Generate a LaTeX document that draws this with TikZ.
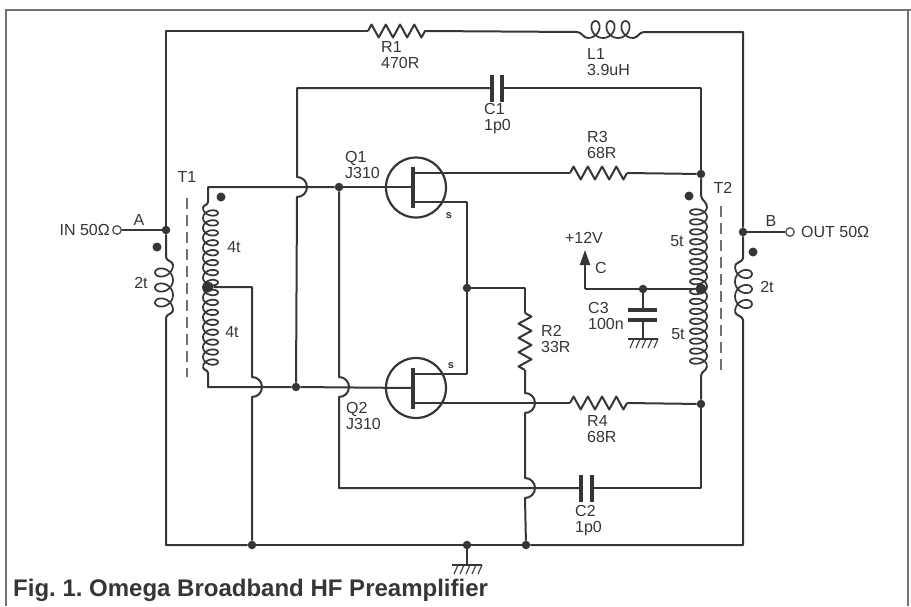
\documentclass[tikz,border=0pt]{standalone}
\usepackage{fontspec}
\setmainfont{Liberation Sans}
\usetikzlibrary{decorations.pathmorphing,arrows.meta}
\definecolor{ink}{HTML}{363636}
\tikzset{
	wire/.style={ink,line width=2pt,line join=round},
	frameline/.style={ink!70,line width=1.3pt},
	junct/.style={circle,fill=ink,inner sep=0pt,minimum size=8.5pt},
	tap/.style={circle,fill=ink,inner sep=0pt,minimum size=11pt},
	term/.style={circle,draw=ink!85,fill=white,line width=1.3pt,inner sep=0pt,minimum size=8.5pt},
	polarity/.style={circle,fill=ink,inner sep=0pt,minimum size=9pt},
	lbl/.style={text=ink,inner sep=0pt,font=\fontsize{16}{16}\selectfont},
	lead/.style={lbl,anchor=west,align=left,font=\fontsize{16}{16}\selectfont},
	zig/.style={wire,decorate,decoration={zigzag,segment length=14.25pt,amplitude=6.5pt}},
	plate/.style={ink,line width=3.5pt},
	fet/.style={circle,draw=ink,line width=2.2pt,inner sep=0pt,minimum size=60pt},
	core/.style={ink!70,line width=1.5pt,dash pattern=on 11pt off 6pt}
}
% bump side x, first y, length, turns, width
\newcommand{\winding}[5]{\draw[wire,line width=1.7pt] plot[domain=0:1,samples=#4*24,smooth,variable=\t] ({#1+(#5)/2*(1-cos(360*#4*\t))},{#2+#3*\t+.5*#3/#4*sin(360*#4*\t)});}
% first x, bump side y, length, turns, width
\newcommand{\windingh}[5]{\draw[wire,line width=1.7pt] plot[domain=0:1,samples=#4*24,smooth,variable=\t] ({#1+#3*\t+.5*#3/#4*sin(360*#4*\t)},{#2+(#5)/2*(1-cos(360*#4*\t))});}
\newcommand{\earth}[2]{\draw[wire] (#1-15,#2) -- (#1+15,#2);
	\foreach \i in {0,...,4} \draw[ink,line width=1.1pt] (#1-9+\i*6,#2) -- ++(-4,9);}
\begin{document}
\frenchspacing
\begin{tikzpicture}[x=1pt,y=-1pt]
	\useasboundingbox (0,0) rectangle (911,606);
	\fill[white] (0,0) rectangle (911,606);
	% page rule
	\draw[frameline] (6,606) -- (6,10) -- (911,10);
	\draw[frameline] (908,10) -- (908,606);

	% junctions
	\node[junct] (inA) at (166,230) {};
	\node[junct] (outB) at (743,232) {};
	\node[junct] (g1) at (339,187) {};
	\node[junct] (g2) at (296,387) {};
	\node[junct] (srcs) at (467,288) {};
	\node[junct] (d1) at (701,174) {};
	\node[junct] (d2) at (701,404) {};
	\node[tap] (tapL) at (208,287) {};
	\node[tap] (tapR) at (701,289) {};
	\node[junct] (dec) at (643,289) {};
	\node[junct] (gnd1) at (252,545) {};
	\node[junct] (gnd2) at (467,545) {};
	\node[junct] (gnd3) at (526,545) {};
	\node[term] (inT) at (117,230) {};
	\node[term] (outT) at (790,232) {};
	\node[polarity] (p1) at (157,247) {};
	\node[polarity] (p2) at (221,197) {};
	\node[polarity] (p3) at (689,196) {};
	\node[polarity] (p4) at (753,252) {};

	% transistors
	\node[fet] (q1) at (416,187.5) {};
	\node[fet] (q2) at (416,388) {};
	\coordinate (gate1) at (413,187);
	\coordinate (gate2) at (413,388);
	\draw[ink,line width=3.5pt] (413,167) -- (413,208);
	\draw[ink,line width=3.5pt] (413,368) -- (413,409);

	% outer loop
	\draw[wire] (inA) -- (166,31) -- (368,31);
	\draw[zig] (368,31) -- (426,31);
	\draw[wire] (426,31) -- (577,32) to [out=0,in=180] (588,38);
	\windingh{588}{38}{45}{3}{-17}
	\draw[wire] (633,38) to [out=0,in=180] (644,32) -- (743,32) -- (outB);
	\draw[wire] (inA) -- (166,257) to [out=270,in=90] (173,265);
	\winding{173}{265}{45}{3}{-18}
	\draw[wire] (173,310) to [out=270,in=90] (166,318) -- (166,545) -- (gnd1);
	\draw[wire] (outB) -- (743,258) to [out=270,in=90] (735,266.5);
	\winding{735}{266.5}{45}{3}{17}
	\draw[wire] (735,311.5) to [out=270,in=90] (743,320) -- (743,545) -- (gnd3);
	\draw[wire] (gnd1) -- (gnd2);
	\draw[wire] (gnd2) -- (gnd3);
	\draw[wire] (inT) -- (inA);
	\draw[wire] (outB) -- (outT);

	% input winding
	\draw[wire] (gate1) -- (g1);
	\draw[wire] (gate2) -- (g2);
	\draw[wire] (g1) -- (208,187) -- (208,202) to [out=270,in=90] (203,208);
	\winding{203}{208}{159}{16}{15}
	\draw[wire] (203,367) to [out=270,in=90] (208,373) -- (208,387) -- (g2);
	\draw[wire] (tapL) -- (252,287) -- (252,377) to [out=0,in=90] ++(10,10) to [out=270,in=0] ++(-10,10) -- (gnd1);

	% feedback
	\draw[wire] (g2) -- (297,197) to [out=0,in=270] ++(10,-10) to [out=90,in=0] ++(-10,-10) -- (297,88) -- (492,88);
	\draw[plate] (492,75) -- (492,102);
	\draw[plate] (502,75) -- (502,102);
	\draw[wire] (502,88) -- (701,88) -- (d1);
	\draw[wire] (g1) -- (339,377) to [out=0,in=90] ++(10,10) to [out=270,in=0] ++(-10,10) -- (339,488) -- (581,488);
	\draw[plate] (581,475) -- (581,502);
	\draw[plate] (592,475) -- (592,502);
	\draw[wire] (592,488) -- (701,488) -- (d2);

	% drains and sources
	\draw[wire] (413,173) -- (570,173);
	\draw[zig] (570,173) -- (627,173);
	\draw[wire] (627,173) -- (d1);
	\draw[wire] (413,403) -- (570,403);
	\draw[zig] (570,403) -- (627,403);
	\draw[wire] (627,403) -- (d2);
	\draw[wire] (413,202) -- (467,202) -- (srcs);
	\draw[wire] (413,374) -- (467,374) -- (srcs);
	\draw[wire] (srcs) -- (525,288) -- (525,313);
	\draw[zig] (525,313) -- (525,370);
	\draw[wire] (525,370) -- (525,393) to [out=0,in=90] ++(10,10) to [out=270,in=0] ++(-10,10) -- (525,478) to [out=0,in=90] ++(10,10) to [out=270,in=0] ++(-10,10) -- (gnd3);

	% output winding
	\draw[wire] (d1) -- (701,195) to [out=270,in=90] (707,207);
	\winding{707}{207}{159}{16}{-17}
	\draw[wire] (707,366) to [out=270,in=90] (701,376) -- (d2);

	% supply
	\draw[wire] (tapR) -- (dec);
	\draw[wire] (dec) -- (585,289);
	\draw[wire,-{Triangle[length=15pt,width=10pt]}] (585,289) -- (585,250);
	\draw[wire] (dec) -- (643,310);
	\draw[plate] (628,310) -- (657,310);
	\draw[plate] (628,320) -- (657,320);
	\draw[wire] (643,320) -- (643,339);
	\earth{643}{339}
	\draw[wire] (gnd2) -- (467,565);
	\earth{467}{565}

	% cores
	\draw[core] (187,198) -- (187,377);
	\draw[core] (721,206) -- (721,371);

	% labels
	\node[lbl,anchor=east] (inL) at (110,230) {IN 50Ω};
	\node[lbl] (aL) at (139,220) {A};
	\node[lbl] (bL) at (771,221) {B};
	\node[lbl,anchor=west] (outL) at (801,232) {OUT 50Ω};
	\node[lbl] (t1L) at (187,177) {T1};
	\node[lbl] (t2L) at (723,188) {T2};
	\node[lbl] (w1) at (141,283) {2t};
	\node[lbl] (w2) at (234,247) {4t};
	\node[lbl] (w3) at (232,332) {4t};
	\node[lbl] (w4) at (677,241) {5t};
	\node[lbl] (w5) at (678,334) {5t};
	\node[lbl] (w6) at (767,287) {2t};
	\node[lead] (r1L) at (381,55) {R1\\470R};
	\node[lead] (l1L) at (587,62) {L1\\3.9uH};
	\node[lead] (c1L) at (484,119) {C1\\1p0};
	\node[lead] (r3L) at (587,145) {R3\\68R};
	\node[lead] (q1L) at (345,165) {Q1\\J310};
	\node[lead] (q2L) at (346,416) {Q2\\J310};
	\node[lead] (r2L) at (541,339) {R2\\33R};
	\node[lead] (r4L) at (587,429) {R4\\68R};
	\node[lead] (c2L) at (575,521) {C2\\1p0};
	\node[lead] (c3L) at (588,316) {C3\\100n};
	\node[lbl] (vL) at (584,238) {+12V};
	\node[lbl] (cL) at (601,268) {C};
	\node[lbl,font=\fontsize{11}{11}\selectfont\bfseries] (s1) at (449,216) {s};
	\node[lbl,font=\fontsize{11}{11}\selectfont\bfseries] (s2) at (451,366) {s};
	\node[text=ink,anchor=west,inner sep=0pt,font=\fontsize{24}{24}\selectfont\bfseries] (cap) at (13,590) {Fig. 1. Omega Broadband HF Preamplifier};
\end{tikzpicture}
\end{document}
